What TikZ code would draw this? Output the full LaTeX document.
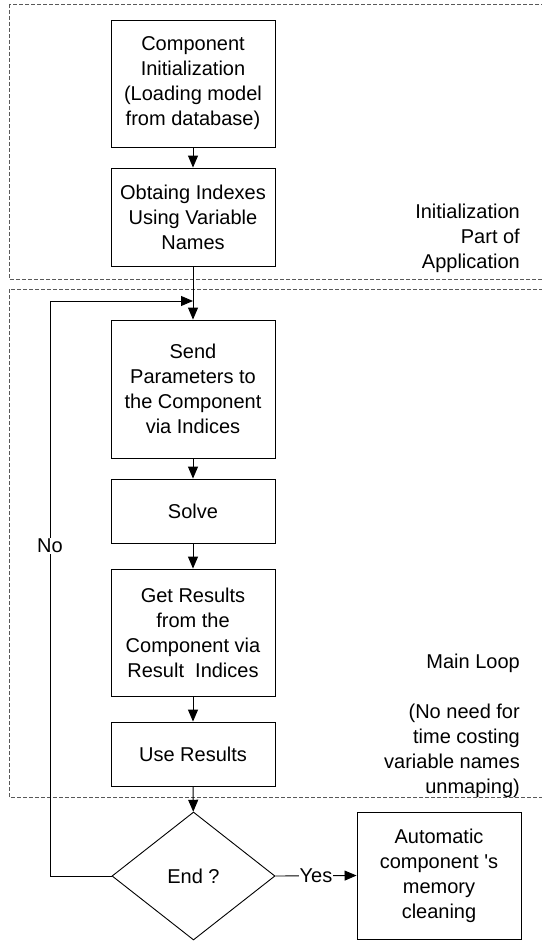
\documentclass[tikz,border=0pt]{standalone}
\usepackage{fontspec}
\setmainfont{Liberation Sans}
\usetikzlibrary{shapes.geometric,arrows.meta}

\begin{document}
\begin{tikzpicture}[x=1pt,y=-1pt,
  txt/.style={font=\fontsize{20}{25}\selectfont},
  stepbox/.style={txt, draw, line width=0.9pt, minimum width=164pt,
    align=center, inner sep=0pt},
  decision/.style={txt, draw, diamond, line width=0.9pt, minimum width=163pt,
    minimum height=128pt, inner sep=0pt},
  flow/.style={line width=0.9pt, -{Triangle[length=12pt,width=10pt]}},
  region/.style={draw=black!65, line width=0.8pt, dash pattern=on 4pt off 2pt},
  note/.style={txt, align=right, inner sep=0pt, anchor=north east},
  tag/.style={txt, fill=white, inner sep=1pt}
]
\useasboundingbox (0,0) rectangle (541,942);

% application regions
\draw[region] (9,4) rectangle (560,279);
\draw[region] (9,289) rectangle (560,797);

% process steps
\node[stepbox, minimum height=127pt] (init) at (193,83.5)
  {Component\\Initialization\\(Loading model\\from database)};
\node[stepbox, minimum height=98pt] (idx) at (193,217)
  {Obtaing Indexes\\Using Variable\\Names};
\node[stepbox, minimum height=138pt] (send) at (193,389)
  {Send\\Parameters to\\the Component\\via Indices};
\node[stepbox, minimum height=64pt] (solve) at (193,511) {Solve};
\node[stepbox, minimum height=127pt] (get) at (193,632.5)
  {Get Results\\from the\\Component via\\Result\ \ Indices};
\node[stepbox, minimum height=64pt] (use) at (193,754) {Use Results};
\node[decision] (end) at (193.5,876) {End ?};
\node[stepbox, minimum height=127pt] (clean) at (439,875.5)
  {Automatic\\component \textquotesingle s\\memory\\cleaning};

% region notes
\node[note] at (520,203.5) {Initialization\\Part of\\Application};
\node[note] at (520,653.5)
  {Main Loop\\[25pt](No need for\\time costing\\variable names\\unmaping)};

% loop entry point and return path
\coordinate (merge) at (193,301);
\coordinate (back) at (50,301);

\draw[flow] (init) -- (idx);
\draw[flow] (idx) -- (send);
\draw[flow] (send) -- (solve);
\draw[flow] (solve) -- (get);
\draw[flow] (get) -- (use);
\draw[flow] (use) -- (end);
\draw[flow] (end.west) -| (back) -- (merge);
\node[tag] at (50,546) {No};
\draw[flow] (end.east) -- node[tag] {Yes} (clean.west);
\end{tikzpicture}
\end{document}
